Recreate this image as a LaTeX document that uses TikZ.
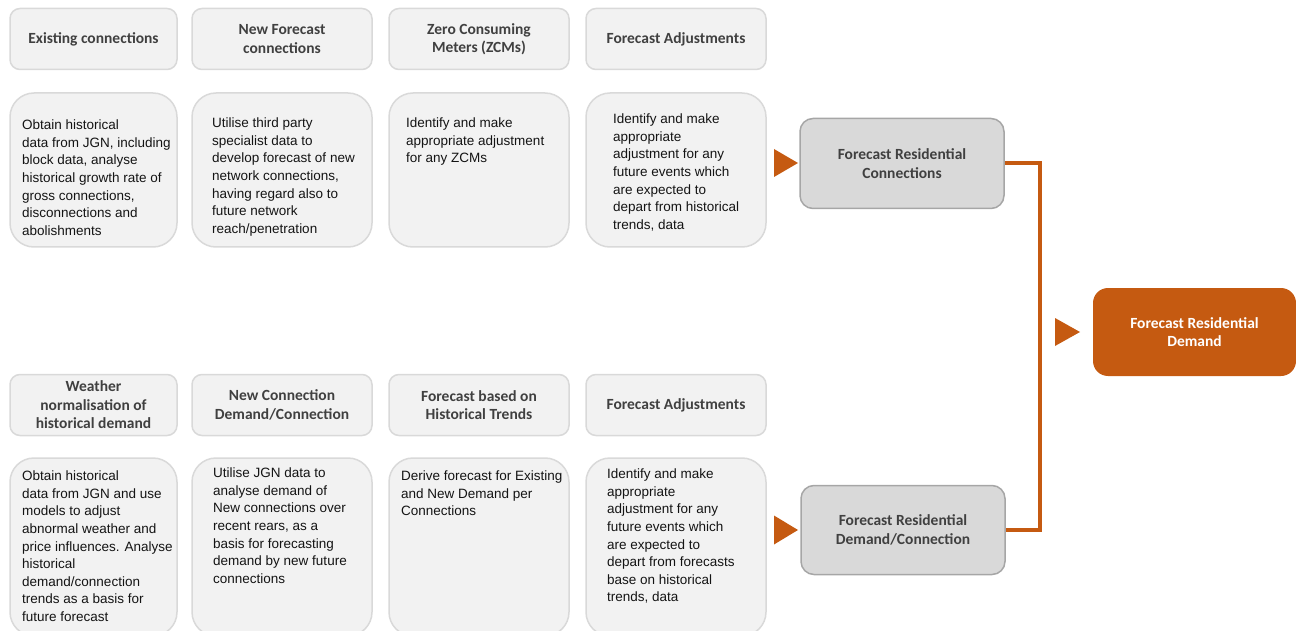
\documentclass[tikz,border=0pt]{standalone}
\usepackage{fontspec}
\setmainfont{Liberation Sans}
\newfontfamily\hdfont{Carlito}
\definecolor{boxfill}{HTML}{F2F2F2}
\definecolor{boxline}{HTML}{D9D9D9}
\definecolor{hdtext}{HTML}{404040}
\definecolor{bodytext}{HTML}{141414}
\definecolor{sumfill}{HTML}{D9D9D9}
\definecolor{sumline}{HTML}{A6A6A6}
\definecolor{orng}{HTML}{C55A11}
\begin{document}
\begin{tikzpicture}[x=1pt,y=-1pt,
  hdbox/.style={draw=boxline, line width=1.5pt, fill=boxfill, rounded corners=10pt,
    inner sep=0pt, minimum height=61pt, align=center, text=hdtext,
    font=\hdfont\bfseries\fontsize{15.5pt}{18.5pt}\selectfont},
  bodybox/.style={draw=boxline, line width=1.5pt, fill=boxfill, rounded corners=24pt,
    inner sep=0pt},
  bodytxt/.style={anchor=north west, inner sep=0pt, align=left, text=bodytext,
    font=\fontsize{13.5pt}{17.6pt}\selectfont},
  sumbox/.style={draw=sumline, line width=1.5pt, fill=sumfill, rounded corners=13pt,
    inner sep=0pt, minimum width=204pt, align=center, text=hdtext,
    font=\hdfont\bfseries\fontsize{15.5pt}{18.5pt}\selectfont},
  finalbox/.style={fill=orng, rounded corners=15pt, inner sep=0pt,
    minimum width=203pt, minimum height=88pt, align=center, text=white,
    font=\hdfont\bfseries\fontsize{15.5pt}{18.5pt}\selectfont},
  conn/.style={draw=orng, line width=4pt, line join=miter},
  tri/.style={fill=orng}
]
\useasboundingbox (0,0) rectangle (1296,631);

% ---- top row headers
\node[hdbox, minimum width=167pt] (h1) at (93.5,39) {Existing connections};
\node[hdbox, minimum width=180pt] (h2) at (282,39) {New Forecast\\connections};
\node[hdbox, minimum width=180pt] (h3) at (479,39) {Zero Consuming\\Meters (ZCMs)};
\node[hdbox, minimum width=180pt] (h4) at (676,39) {Forecast Adjustments};

% ---- top row bodies
\node[bodybox, minimum width=167pt, minimum height=154pt] (b1) at (93.5,170) {};
\node[bodybox, minimum width=180pt, minimum height=154pt] (b2) at (282,170) {};
\node[bodybox, minimum width=180pt, minimum height=154pt] (b3) at (479,170) {};
\node[bodybox, minimum width=180pt, minimum height=154pt] (b4) at (676,170) {};

\node[bodytxt] (t1) at (22,119.7) {Obtain historical\\data from JGN, including\\block data, analyse\\historical growth rate of\\gross connections,\\disconnections and\\abolishments};
\node[bodytxt] (t2) at (212,117.7) {Utilise third party\\specialist data to\\develop forecast of new\\network connections,\\having regard also to\\future network\\reach/penetration};
\node[bodytxt] (t3) at (406,117.7) {Identify and make\\appropriate adjustment\\for any ZCMs};
\node[bodytxt] (t4) at (613,113.7) {Identify and make\\appropriate\\adjustment for any\\future events which\\are expected to\\depart from historical\\trends, data};

% ---- bottom row headers
\node[hdbox, minimum width=167pt] (h5) at (93.5,405) {Weather\\normalisation of\\historical demand};
\node[hdbox, minimum width=180pt] (h6) at (282,405) {New Connection\\Demand/Connection};
\node[hdbox, minimum width=180pt] (h7) at (479,405) {Forecast based on\\Historical Trends};
\node[hdbox, minimum width=180pt] (h8) at (676,405) {Forecast Adjustments};

% ---- bottom row bodies
\node[bodybox, minimum width=167pt, minimum height=178pt] (b5) at (93.5,547) {};
\node[bodybox, minimum width=180pt, minimum height=178pt] (b6) at (282,547) {};
\node[bodybox, minimum width=180pt, minimum height=178pt] (b7) at (479,547) {};
\node[bodybox, minimum width=180pt, minimum height=178pt] (b8) at (676,547) {};

\node[bodytxt] (t5) at (22,470.7) {Obtain historical\\data from JGN and use\\models to adjust\\abnormal weather and\\price influences. Analyse\\historical\\demand/connection\\trends as a basis for\\future forecast};
\node[bodytxt] (t6) at (213,467.7) {Utilise JGN data to\\analyse demand of\\New connections over\\recent rears, as a\\basis for forecasting\\demand by new future\\connections};
\node[bodytxt] (t7) at (401,470.7) {Derive forecast for Existing\\and New Demand per\\Connections};
\node[bodytxt] (t8) at (607,468.7) {Identify and make\\appropriate\\adjustment for any\\future events which\\are expected to\\depart from forecasts\\base on historical\\trends, data};

% ---- summary boxes
\node[sumbox, minimum height=90pt] (frc) at (902,163.5) {Forecast Residential\\Connections};
\node[sumbox, minimum height=89pt] (frdc) at (903,530) {Forecast Residential\\Demand/Connection};
\node[finalbox] (frd) at (1194.5,332) {Forecast Residential\\Demand};

% ---- arrow markers
\fill[tri] (774,149) -- (798,163) -- (774,177) -- cycle;
\fill[tri] (774,515.5) -- (798,530) -- (774,544.5) -- cycle;
\fill[tri] (1055,318) -- (1080,332) -- (1055,346) -- cycle;

% ---- connector
\coordinate (jct) at (1040,332);
\draw[conn] (frc.east) -- (frc.east -| jct) -- (frdc.east -| jct) -- (frdc.east);
\end{tikzpicture}
\end{document}
